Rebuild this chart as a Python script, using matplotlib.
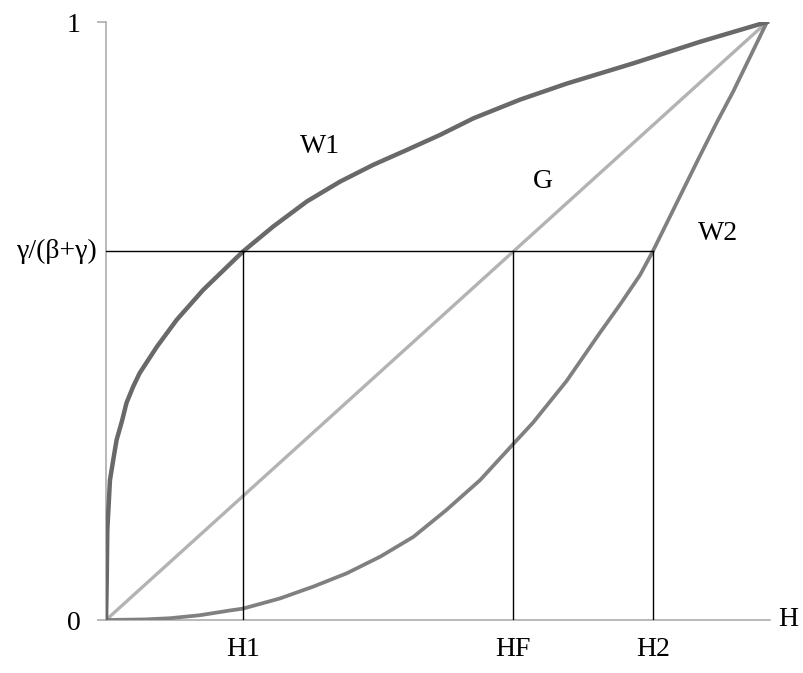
import numpy as np
import matplotlib
matplotlib.use("Agg")
import matplotlib.pyplot as plt

plt.rcParams['font.family'] = ['Liberation Serif', 'DejaVu Serif']

# curves (H on x, share on y)
w1_x = [0, 0.001, 0.002, 0.006, 0.011, 0.016, 0.024, 0.031, 0.041, 0.051, 0.077, 0.107,
        0.147, 0.207, 0.253, 0.304, 0.354, 0.404, 0.455, 0.505, 0.556, 0.626, 0.697,
        0.798, 0.899, 1]
w1_y = [0, 0.06, 0.150, 0.234, 0.268, 0.301, 0.332, 0.363, 0.390, 0.413, 0.457, 0.502,
        0.552, 0.616, 0.658, 0.700, 0.733, 0.761, 0.786, 0.811, 0.839, 0.870, 0.897,
        0.931, 0.967, 1]

w2_x = [0, 0.06, 0.097, 0.142, 0.188, 0.207, 0.263, 0.314, 0.364, 0.415, 0.465, 0.515,
        0.566, 0.615, 0.646, 0.697, 0.747, 0.778, 0.808, 0.827, 0.848, 0.873, 0.898,
        0.924, 0.949, 1]
w2_y = [0, 0.001, 0.003, 0.008, 0.016, 0.019, 0.036, 0.056, 0.078, 0.106, 0.139, 0.184,
        0.234, 0.293, 0.330, 0.400, 0.480, 0.528, 0.577, 0.616, 0.663, 0.719, 0.775,
        0.832, 0.884, 1]

g_x = [0, 1]
g_y = [0, 1]

H1, HF, H2 = 0.207, 0.615, 0.828
level = 0.617
xlabels = ["H1", "HF", "H2"]

fig = plt.figure(figsize=(8.04, 6.73), dpi=100)
W, Hpx = 804, 673
x0, x1 = 106, 770.3
y0, y1 = 620, 22
ax = fig.add_axes([x0 / W, (Hpx - y0) / Hpx, (x1 - x0) / W, (y0 - y1) / Hpx])
ax.set_xlim(0, 1.005)
ax.set_ylim(0, 1)

ax.plot(g_x, g_y, color='#b3b3b3', lw=2.4, zorder=3, solid_capstyle='butt')
ax.plot(w2_x, w2_y, color='#808080', lw=2.7, zorder=3)
ax.plot(w1_x, w1_y, color='#696969', lw=3.2, zorder=3)

ax.plot([0, H2], [level, level], color='black', lw=1.0, zorder=4)
for h in [H1, HF, H2]:
    ax.plot([h, h], [0, level], color='black', lw=1.0, zorder=4)

for s in ['top', 'right']:
    ax.spines[s].set_visible(False)
for s in ['left', 'bottom']:
    ax.spines[s].set_color('#a6a6a6')
    ax.spines[s].set_linewidth(1.1)
    ax.spines[s].set_zorder(2)

ax.set_yticks([0, 1], ["0", "1"])
ax.tick_params(axis='y', length=6.5, width=1.1, color='#a6a6a6', pad=12, labelsize=20)
ax.set_xticks([H1, HF, H2], xlabels)
ax.tick_params(axis='x', length=0, pad=12, labelsize=20)

ax.text(-0.012, level, "γ/(β+γ)", ha='right', va='center', fontsize=20)
ax.text(1.032, 0, "H", ha='center', va='center', fontsize=20)
ax.text(0.324, 0.791, "W1", ha='center', va='center', fontsize=20)
ax.text(0.661, 0.733, "G", ha='center', va='center', fontsize=20)
ax.text(0.926, 0.647, "W2", ha='center', va='center', fontsize=20)

fig.savefig("out.png", dpi=100)
